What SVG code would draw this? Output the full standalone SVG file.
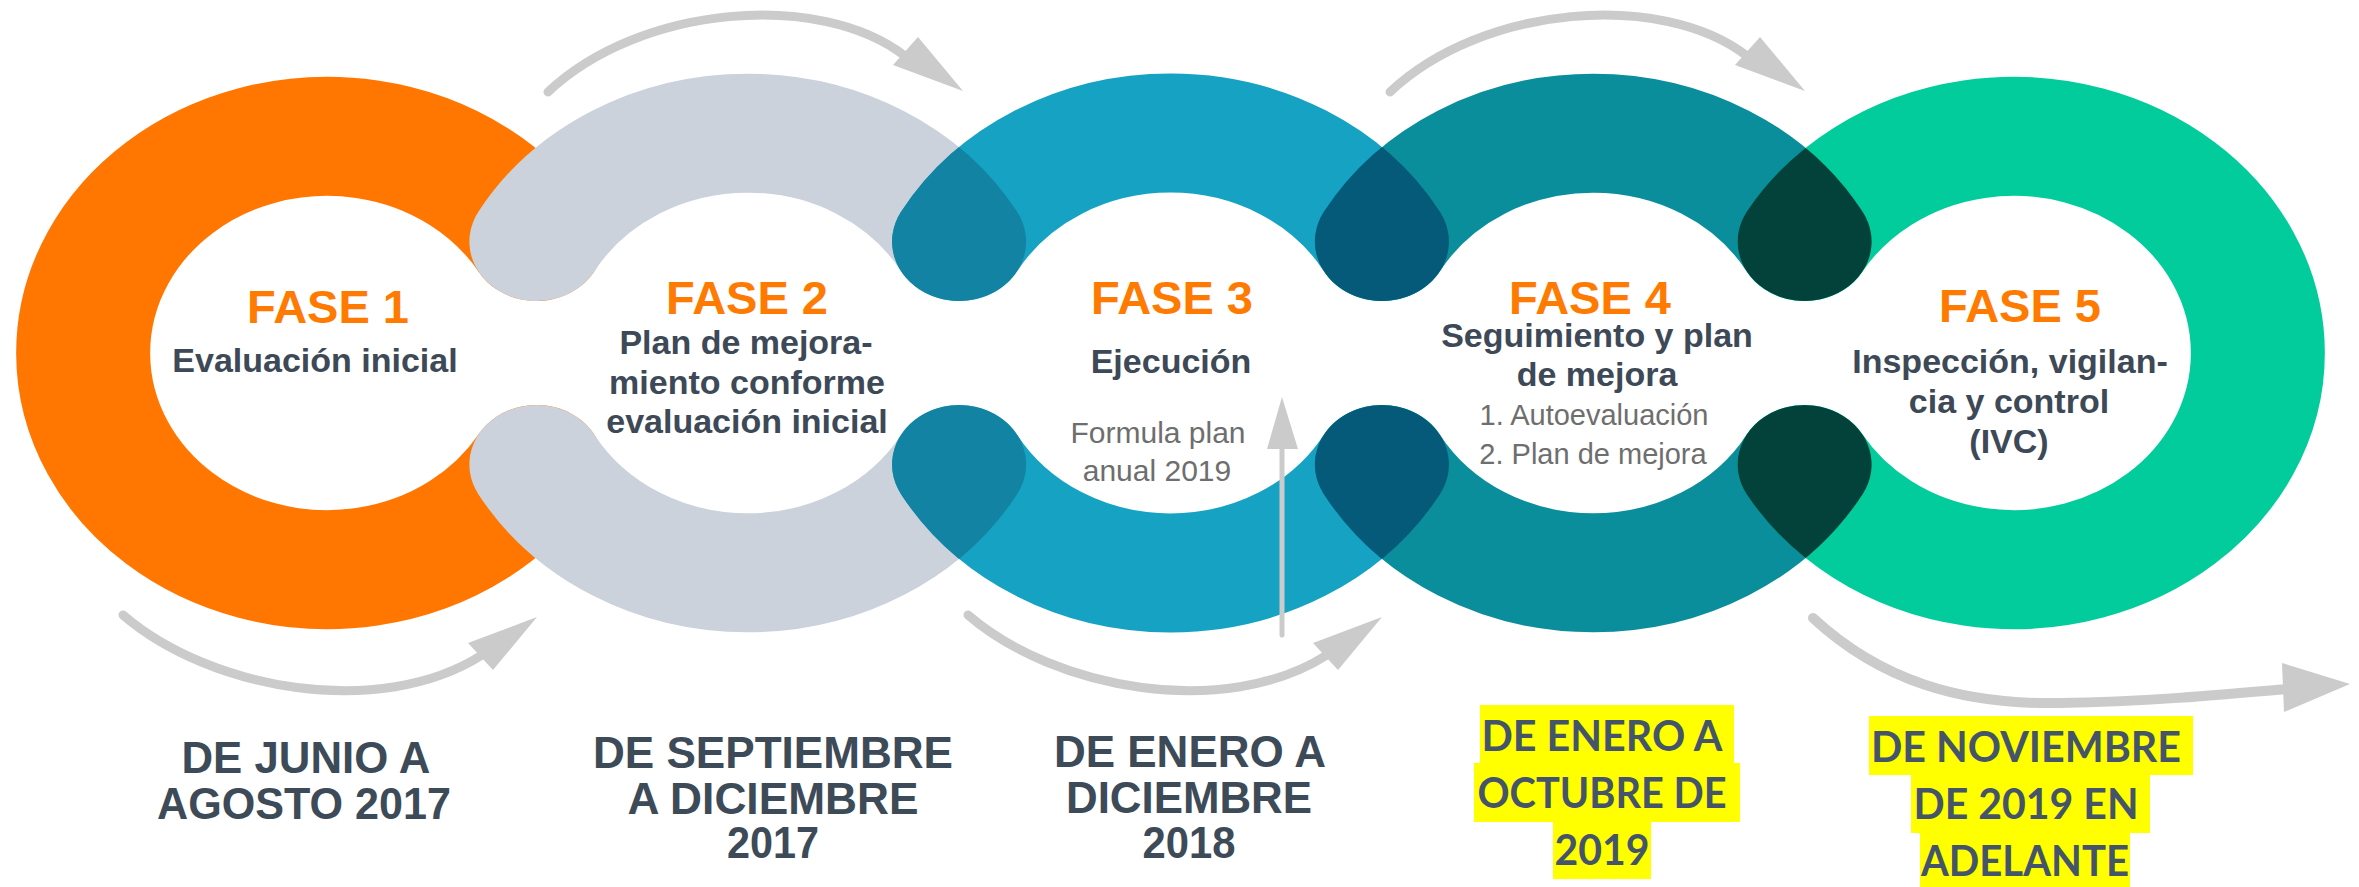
<svg xmlns="http://www.w3.org/2000/svg" width="2359" height="887" viewBox="0 0 2359 887">
<defs>
<style>
.ring{fill:none;stroke-width:134;stroke-linecap:round}
.msk{fill:none;stroke:#fff;stroke-width:134;stroke-linecap:round}
.fase{font-family:"Liberation Sans",Arial,sans-serif;font-weight:bold;font-size:47px;fill:#FF7A00;text-anchor:middle}
.sub{font-family:"Liberation Sans",Arial,sans-serif;font-weight:bold;font-size:34px;fill:#3D4957;text-anchor:middle}
.note{font-family:"Liberation Sans",Arial,sans-serif;font-size:30px;fill:#6E6E6E;text-anchor:middle}
.date{font-family:"Liberation Sans",Arial,sans-serif;font-weight:bold;font-size:45px;fill:#3D4A57;text-anchor:middle}
.hl{fill:#FFFF00}
.hdate{font-family:Lato,"Liberation Sans",sans-serif;font-weight:bold;font-size:42px;fill:#44546A;text-anchor:middle}
.arr{fill:none;stroke:#CBCBCB;stroke-linecap:round}
.head{fill:#CBCBCB}
</style>
<path id="r1" d="M536.4,272 A244,244 0 1 0 536.4,523"/>
<path id="r2t" d="M536.4,272 A244,244 0 0 1 959.1,272"/>
<path id="r2b" d="M536.4,523 A244,244 0 0 0 959.1,523"/>
<path id="r3t" d="M959.1,272 A244,244 0 0 1 1381.9,272"/>
<path id="r3b" d="M959.1,523 A244,244 0 0 0 1381.9,523"/>
<path id="r4t" d="M1381.9,272 A244,244 0 0 1 1804.6,272"/>
<path id="r4b" d="M1381.9,523 A244,244 0 0 0 1804.6,523"/>
<path id="r5" d="M1804.6,272 A244,244 0 1 1 1804.6,523"/>
<mask id="m2" maskUnits="userSpaceOnUse" x="-100" y="-100" width="2600" height="1300">
<use href="#r2t" class="msk"/><use href="#r2b" class="msk"/>
</mask>
<mask id="m3" maskUnits="userSpaceOnUse" x="-100" y="-100" width="2600" height="1300">
<use href="#r3t" class="msk"/><use href="#r3b" class="msk"/>
</mask>
<mask id="m4" maskUnits="userSpaceOnUse" x="-100" y="-100" width="2600" height="1300">
<use href="#r4t" class="msk"/><use href="#r4b" class="msk"/>
</mask>
</defs>
<rect x="0" y="0" width="2359" height="887" fill="#ffffff"/>

<g id="fase1">
<g transform="scale(1,0.888)">
<use href="#r1" class="ring" stroke="#FF7700"/>
</g>
<text class="fase" x="328" y="323">FASE 1</text>
<text class="sub" x="315" y="372">Evaluación inicial</text>
<text class="date" x="306" y="773" textLength="249" lengthAdjust="spacingAndGlyphs">DE JUNIO A</text>
<text class="date" x="304" y="819" textLength="294" lengthAdjust="spacingAndGlyphs">AGOSTO 2017</text>
</g>

<g id="fase2">
<g transform="scale(1,0.888)">
<use href="#r2t" class="ring" stroke="#CBD2DC"/>
<use href="#r2b" class="ring" stroke="#CBD2DC"/>
</g>
<text class="fase" x="747" y="314">FASE 2</text>
<text class="sub" x="746" y="354">Plan de mejora-</text>
<text class="sub" x="747" y="394">miento conforme</text>
<text class="sub" x="747" y="433">evaluación inicial</text>
<text class="date" x="773" y="768" textLength="360" lengthAdjust="spacingAndGlyphs">DE SEPTIEMBRE</text>
<text class="date" x="773" y="814" textLength="291" lengthAdjust="spacingAndGlyphs">A DICIEMBRE</text>
<text class="date" x="773" y="858" textLength="92" lengthAdjust="spacingAndGlyphs">2017</text>
</g>

<g id="fase3">
<g transform="scale(1,0.888)">
<use href="#r3t" class="ring" stroke="#16A2C3"/>
<use href="#r3b" class="ring" stroke="#16A2C3"/>
<g mask="url(#m2)">
<use href="#r3t" class="ring" stroke="#1283A3"/>
<use href="#r3b" class="ring" stroke="#1283A3"/>
</g>
</g>
<text class="fase" x="1172" y="314">FASE 3</text>
<text class="sub" x="1171" y="373">Ejecución</text>
<text class="note" x="1158" y="443">Formula plan</text>
<text class="note" x="1157" y="481">anual 2019</text>
<text class="date" x="1190" y="767" textLength="272" lengthAdjust="spacingAndGlyphs">DE ENERO A</text>
<text class="date" x="1189" y="813" textLength="246" lengthAdjust="spacingAndGlyphs">DICIEMBRE</text>
<text class="date" x="1189" y="858" textLength="93" lengthAdjust="spacingAndGlyphs">2018</text>
</g>

<g id="fase4">
<g transform="scale(1,0.888)">
<use href="#r4t" class="ring" stroke="#0A8E9C"/>
<use href="#r4b" class="ring" stroke="#0A8E9C"/>
<g mask="url(#m3)">
<use href="#r4t" class="ring" stroke="#045A78"/>
<use href="#r4b" class="ring" stroke="#045A78"/>
</g>
</g>
<text class="fase" x="1590" y="314">FASE 4</text>
<text class="sub" x="1597" y="347">Seguimiento y plan</text>
<text class="sub" x="1597" y="386">de mejora</text>
<text class="note" x="1594" y="425" style="font-size:29px">1. Autoevaluación</text>
<text class="note" x="1593" y="464" style="font-size:29px">2. Plan de mejora</text>
<rect class="hl" x="1480" y="705" width="254" height="58"/>
<rect class="hl" x="1474" y="763" width="266" height="59"/>
<rect class="hl" x="1553" y="822" width="98" height="57"/>
<text class="hdate" x="1602" y="751" textLength="241" lengthAdjust="spacingAndGlyphs">DE ENERO A</text>
<text class="hdate" x="1602" y="808" textLength="249" lengthAdjust="spacingAndGlyphs">OCTUBRE DE</text>
<text class="hdate" x="1602" y="865" textLength="95" lengthAdjust="spacingAndGlyphs">2019</text>
</g>

<g id="fase5">
<g transform="scale(1,0.888)">
<use href="#r5" class="ring" stroke="#02CC9C"/>
<g mask="url(#m4)">
<use href="#r5" class="ring" stroke="#03423A"/>
</g>
</g>
<text class="fase" x="2020" y="322">FASE 5</text>
<text class="sub" x="2010" y="373">Inspección, vigilan-</text>
<text class="sub" x="2009" y="413">cia y control</text>
<text class="sub" x="2009" y="453">(IVC)</text>
<rect class="hl" x="1869" y="716" width="324" height="59"/>
<rect class="hl" x="1911" y="775" width="239" height="58"/>
<rect class="hl" x="1920" y="833" width="210" height="54"/>
<text class="hdate" x="2026" y="762" textLength="310" lengthAdjust="spacingAndGlyphs">DE NOVIEMBRE</text>
<text class="hdate" x="2026" y="819" textLength="225" lengthAdjust="spacingAndGlyphs">DE 2019 EN</text>
<text class="hdate" x="2025" y="876" textLength="208" lengthAdjust="spacingAndGlyphs">ADELANTE</text>
</g>

<g id="connectors">
<g id="top-arrow-1">
<path class="arr" stroke-width="9" d="M548,92 C640,5 820,-10 905,56"/>
<polygon class="head" points="963,91 918,37 893,65"/>
</g>
<g id="top-arrow-2" transform="translate(842,0)">
<path class="arr" stroke-width="9" d="M548,92 C640,5 820,-10 905,56"/>
<polygon class="head" points="963,91 918,37 893,65"/>
</g>
<g id="bottom-arrow-1">
<path class="arr" stroke-width="9" d="M123,615 C210,690 380,720 482,655"/>
<polygon class="head" points="537,617 468,643 493,670"/>
</g>
<g id="bottom-arrow-2" transform="translate(845,0)">
<path class="arr" stroke-width="9" d="M123,615 C210,690 380,720 482,655"/>
<polygon class="head" points="537,617 468,643 493,670"/>
</g>
<g id="bottom-arrow-3">
<path class="arr" stroke-width="10" d="M1813,618 C1880,680 1960,705 2060,703 C2140,702 2220,695 2287,689"/>
<polygon class="head" points="2350,684 2282,663 2284,712"/>
</g>
<g id="up-arrow">
<line class="arr" stroke-width="5" stroke-linecap="butt" x1="1282" y1="448" x2="1282" y2="635"/>
<polygon class="head" points="1282,397 1267,449 1298,449"/>
</g>
</g>
</svg>
